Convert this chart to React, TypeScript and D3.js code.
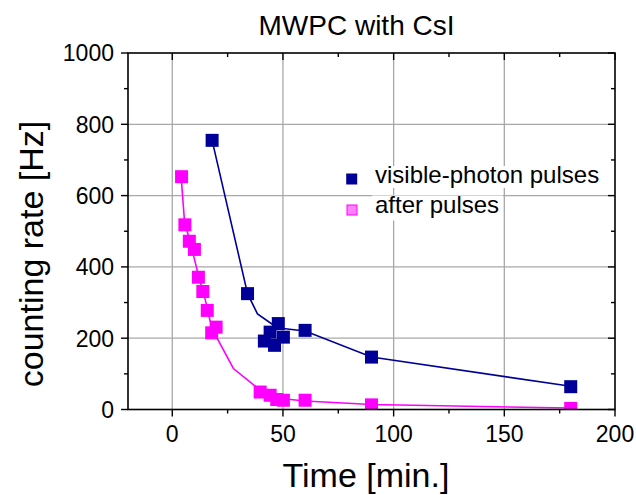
import React from "react";
import * as d3 from "d3";

const visibleX = [18, 34, 41.6, 44.2, 46.2, 47.9, 50.2, 60, 90, 180];
const visibleY = [755, 325, 192, 217, 180, 241, 203, 222, 147, 64];

const afterX = [4.2, 5.7, 7.7, 10, 11.8, 13.8, 15.8, 17.8, 19.8, 39.7, 44.2, 47.2, 50.2, 60, 90, 180];
const afterY = [653, 518, 472, 449, 371, 331, 278, 215, 231, 49, 40, 28, 26, 26, 13, 3];

// smoothed guide curves drawn through the points
const visibleCurveX = [18, 34, 38.5, 45, 50, 60, 90, 180];
const visibleCurveY = [755, 325, 268, 240, 227, 220, 147, 65];
const afterCurveX = [4, 5.5, 8, 10.5, 12, 14, 16, 17, 20, 27.6, 38, 45, 50, 60, 90, 180];
const afterCurveY = [653, 530, 470, 410, 371, 330, 280, 250, 203, 115, 63, 38, 30, 24, 14, 4];

const xMajorTicks = [0, 50, 100, 150, 200];
const xMinorTicks = [25, 75, 125, 175];
const yMajorTicks = [0, 200, 400, 600, 800, 1000];
const yMinorTicks = [100, 300, 500, 700, 900];

const legendLabels = ["visible-photon pulses", "after pulses"];

const FONT = "'Liberation Sans', Arial, Helvetica, sans-serif";
const BLUE = "#000099";
const MAGENTA = "#ff00ff";

export default function App() {
  const W = 636, H = 495;
  const left = 128, right = 615, top = 53, bottom = 409.5;
  const x = d3.scaleLinear().domain([-20, 200]).range([left, right]);
  const y = d3.scaleLinear().domain([0, 1000]).range([bottom, top]);
  const line = d3.line<[number, number]>().x(d => x(d[0])).y(d => y(d[1]));
  const visPts = visibleX.map((v, i) => [v, visibleY[i]] as [number, number]);
  const aftPts = afterX.map((v, i) => [v, afterY[i]] as [number, number]);
  const visCurve = visibleCurveX.map((v, i) => [v, visibleCurveY[i]] as [number, number]);
  const aftCurve = afterCurveX.map((v, i) => [v, afterCurveY[i]] as [number, number]);
  const ms = 13;
  const majorLen = 7, minorLen = 4;

  return (
    <svg width={W} height={H} style={{ position: "absolute", left: 0, top: 0, background: "#fff" }} fontFamily={FONT}>
      <defs>
        <clipPath id="plot">
          <rect x={left} y={top} width={right - left} height={bottom - top} />
        </clipPath>
      </defs>
      {/* grid */}
      {xMajorTicks.filter(t => t > -20 && t < 200).map(t => (
        <line key={"gx" + t} x1={x(t)} x2={x(t)} y1={top} y2={bottom} stroke="#a8a8a8" strokeWidth={1.3} />
      ))}
      {yMajorTicks.filter(t => t > 0 && t < 1000).map(t => (
        <line key={"gy" + t} x1={left} x2={right} y1={y(t)} y2={y(t)} stroke="#a8a8a8" strokeWidth={1.3} />
      ))}
      {/* legend */}
      <g>
        <rect x={373} y={166} width={230} height={22} fill="#fff" />
        <rect x={372} y={195.5} width={131} height={25} fill="#fff" />
        <rect x={351.7 - 5.5} y={179 - 5.5} width={11} height={11} fill={BLUE} />
        <rect x={352 - 5} y={210 - 5} width={10} height={10} fill="#ff80ff" stroke={MAGENTA} strokeWidth={1} />
        <text x={375} y={182.5} fontSize={24} fill="#000">{legendLabels[0]}</text>
        <text x={375} y={212.5} fontSize={24} fill="#000">{legendLabels[1]}</text>
      </g>
      <g clipPath="url(#plot)">
        <path d={line(visCurve) || ""} fill="none" stroke={BLUE} strokeWidth={1.6} />
        <path d={line(aftCurve) || ""} fill="none" stroke={MAGENTA} strokeWidth={1.6} />
        {aftPts.map((p, i) => (
          <rect key={"a" + i} x={x(p[0]) - ms / 2} y={y(p[1]) - ms / 2} width={ms} height={ms} fill={MAGENTA} />
        ))}
        {visPts.map((p, i) => (
          <rect key={"v" + i} x={x(p[0]) - ms / 2} y={y(p[1]) - ms / 2} width={ms} height={ms} fill={BLUE} />
        ))}
      </g>
      {/* frame */}
      <rect x={left} y={top} width={right - left} height={bottom - top} fill="none" stroke="#000" strokeWidth={1.6} />
      {/* x ticks bottom (out) and top (in) */}
      {xMajorTicks.map(t => (
        <g key={"xt" + t}>
          <line x1={x(t)} x2={x(t)} y1={bottom} y2={bottom + majorLen} stroke="#000" strokeWidth={1.4} />
          <line x1={x(t)} x2={x(t)} y1={top} y2={top + majorLen} stroke="#000" strokeWidth={1.4} />
          <text x={x(t)} y={442} fontSize={23} textAnchor="middle">{t}</text>
        </g>
      ))}
      {xMinorTicks.map(t => (
        <g key={"xm" + t}>
          <line x1={x(t)} x2={x(t)} y1={bottom} y2={bottom + minorLen} stroke="#000" strokeWidth={1.4} />
          <line x1={x(t)} x2={x(t)} y1={top} y2={top + minorLen} stroke="#000" strokeWidth={1.4} />
        </g>
      ))}
      {/* y ticks left (out) and right (in) */}
      {yMajorTicks.map(t => (
        <g key={"yt" + t}>
          <line x1={left - majorLen} x2={left} y1={y(t)} y2={y(t)} stroke="#000" strokeWidth={1.4} />
          <line x1={right - majorLen} x2={right} y1={y(t)} y2={y(t)} stroke="#000" strokeWidth={1.4} />
          <text x={114} y={y(t) + 8.3} fontSize={23} textAnchor="end">{t}</text>
        </g>
      ))}
      {yMinorTicks.map(t => (
        <g key={"ym" + t}>
          <line x1={left - minorLen} x2={left} y1={y(t)} y2={y(t)} stroke="#000" strokeWidth={1.4} />
          <line x1={right - minorLen} x2={right} y1={y(t)} y2={y(t)} stroke="#000" strokeWidth={1.4} />
        </g>
      ))}
      {/* titles */}
      <text x={356.5} y={35} fontSize={28} textAnchor="middle">MWPC with CsI</text>
      <text x={366} y={487} fontSize={34} textAnchor="middle">Time [min.]</text>
      <text transform="translate(43,254) rotate(-90)" fontSize={34} textAnchor="middle">counting rate [Hz]</text>
    </svg>
  );
}
